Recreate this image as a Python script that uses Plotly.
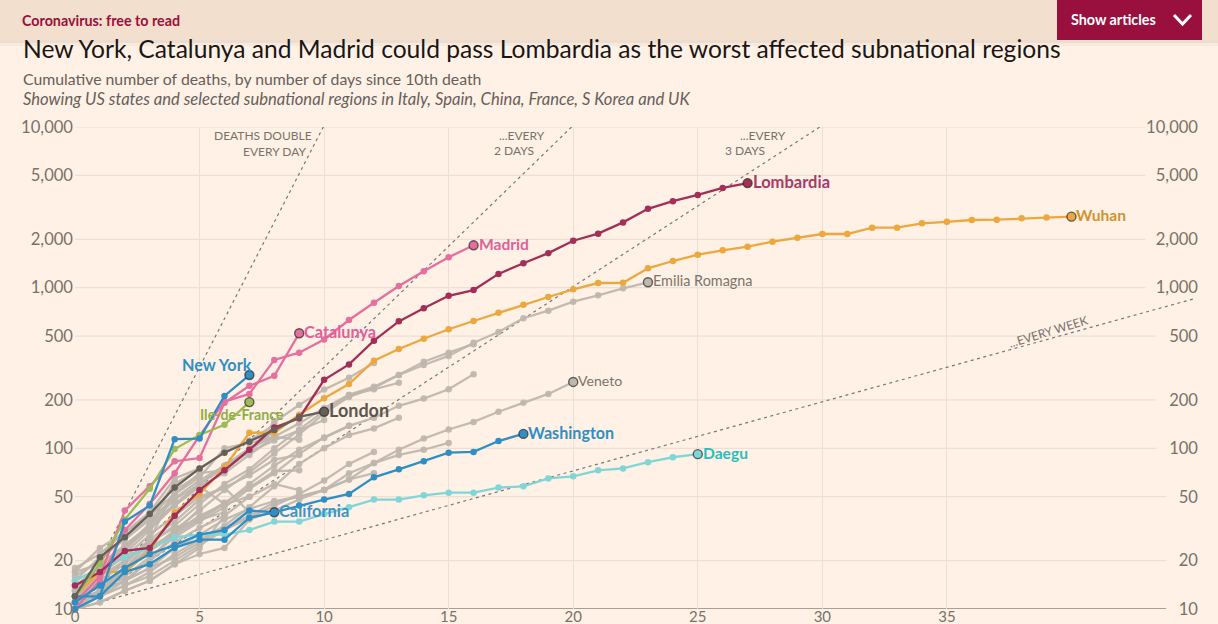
import math
import plotly.graph_objects as go

W, H = 1218, 624
BG = "#fff1e5"
FONT = "Lato"

title_text = "New York, Catalunya and Madrid could pass Lombardia as the worst affected subnational regions"
subtitle_text = "Cumulative number of deaths, by number of days since 10th death"
note_text = "Showing US states and selected subnational regions in Italy, Spain, China, France, S Korea and UK"

y_ticks = [10, 20, 50, 100, 200, 500, 1000, 2000, 5000, 10000]
y_labels = ["10", "20", "50", "100", "200", "500", "1,000", "2,000", "5,000", "10,000"]
x_ticks = [0, 5, 10, 15, 20, 25, 30, 35]

lombardia = [14, 17, 23, 24, 38, 55, 73, 98, 135, 154, 267, 333, 468, 617, 744, 890, 966, 1218, 1420, 1640, 1959, 2168, 2549, 3095, 3456, 3776, 4178, 4474]
wuhan = [12, 17, 17, 23, 40, 52, 76, 125, 125, 162, 205, 251, 351, 415, 481, 551, 620, 698, 783, 875, 977, 1069, 1073, 1320, 1465, 1604, 1708, 1799, 1932, 2046, 2158, 2158, 2361, 2361, 2513, 2570, 2637, 2650, 2700, 2729, 2767]
madrid = [10, 15, 31, 45, 70, 120, 195, 218, 355, 394, 476, 629, 806, 1024, 1264, 1546, 1835]
catalunya = [11, 16, 41, 58, 83, 87, 192, 245, 283, 520]
new_york = [12, 12, 35, 44, 114, 115, 212, 286]
ile_de_france = [12, 19, 36, 56, 99, 121, 140, 194]
london = [12, 21, 28, 39, 57, 75, 94, 110, 130, 157, 169]
california = [11, 14, 18, 22, 25, 29, 31, 41, 40]
washington = [10, 12, 17, 19, 24, 27, 27, 37, 40, 44, 48, 52, 66, 74, 83, 94, 95, 111, 123]
daegu = [15, 18, 21, 24, 28, 29, 29, 31, 35, 35, 39, 43, 48, 48, 51, 53, 53, 57, 58, 65, 67, 73, 75, 82, 88, 92]
emilia = [11, 13, 18, 26, 33, 45, 60, 74, 100, 130, 171, 215, 242, 286, 330, 376, 454, 530, 645, 719, 818, 896, 990, 1080]
veneto = [11, 13, 15, 18, 24, 29, 36, 42, 47, 50, 55, 64, 81, 98, 115, 131, 146, 169, 192, 218, 259]

grey_a = [12, 14, 17, 23, 31, 41, 55, 71, 93, 122, 165, 209, 238, 286, 346, 394, 445]
grey_b = [10, 13, 16, 21, 28, 35, 43, 56, 70, 92, 117, 138, 155, 184, 204, 233, 289]
grey_c = [13, 17, 25, 33, 45, 60, 78, 100, 118, 143, 178, 215, 233, 256]
grey_d = [14, 18, 24, 34, 48, 60, 76, 95, 146, 186, 232, 275, 340]
grey_e = [10, 12, 14, 17, 22, 27, 33, 43, 58, 80, 100, 121, 133, 155]
grey_f = [11, 14, 18, 23, 29, 36, 45, 60, 78, 98, 116, 138]
grey_g = [10, 12, 14, 16, 20, 25, 31, 37, 44, 52, 63, 80, 95]
grey_h = [10, 11, 13, 15, 19, 22, 24, 36, 41, 48, 55, 64, 70]
grey_i = [11, 13, 15, 18, 21, 26, 32, 38, 46, 50, 55, 70, 81, 91, 98, 108]
grey_j = [15, 21, 27, 36, 49, 63, 78, 95, 112, 130, 150]
grey_k = [17, 24, 30, 38, 52, 66, 100, 108, 118, 113]
grey_l = [16, 20, 28, 37, 60, 74, 95, 112, 140]
grey_m = [13, 19, 25, 33, 52, 70, 73, 96, 128]
grey_n = [12, 16, 22, 31, 44, 58, 70, 91, 118]
grey_o = [11, 15, 20, 27, 35, 48, 57, 68, 85, 91]
grey_p = [10, 13, 17, 23, 30, 37, 46, 57, 72, 73]
grey_q = [12, 14, 18, 24, 30, 38, 45, 50, 60, 55]
grey_r = [10, 12, 15, 20, 26, 32, 38, 50]
grey_s = [17, 19, 24, 32, 44, 58, 45]
grey_t = [14, 17, 21, 29, 38, 50, 57, 40]
grey_u = [18, 22, 30, 40, 65, 75]
grey_v = [15, 18, 23, 33, 62]
grey_w = [12, 15, 19, 27, 55, 68]
grey_x = [11, 13, 15, 20, 30, 42]
grey_y = [10, 11, 13, 15, 19, 24, 38]
grey_z = [13, 16, 20, 26, 32, 36, 40]

guide_days = [[0, 10], [0, 20], [0, 30], [0, 45]]
guide_deaths = [[10, 10240], [10, 10240], [10, 10240], [10, 860]]

COL_GREY = "rgba(190,182,174,0.92)"
COL_LOMB = "#a22f58"
COL_PINK = "#e56f9e"
COL_BLUE = "#2f8fc4"
COL_ORANGE = "#eca83f"
COL_TEAL = "#80d6d6"
COL_GREEN = "#9ebb55"
COL_DARK = "#66605a"
GRID = "#ecdfd4"
TICK = "#79716b"

fig = go.Figure()


def px(x):
    return x / W


def py(y):
    return 1 - y / H


def add_series(vals, color, width=2.3, size=6.5, end=False, end_fill=None):
    days = list(range(len(vals)))
    fig.add_trace(go.Scatter(x=days, y=vals, mode="lines+markers",
                             line=dict(color=color, width=width),
                             marker=dict(color=color, size=size),
                             hoverinfo="skip", cliponaxis=False, showlegend=False))
    if end:
        fig.add_trace(go.Scatter(x=days[-1:], y=vals[-1:], mode="markers",
                                 marker=dict(color=end_fill or color, size=9,
                                             line=dict(color="rgba(50,45,45,0.75)", width=1.4)),
                                 hoverinfo="skip", cliponaxis=False, showlegend=False))


for gx, gy in zip(guide_days, guide_deaths):
    fig.add_trace(go.Scatter(x=gx, y=gy, mode="lines",
                             line=dict(color="#7d7570", width=1.2, dash="3px,3.5px"),
                             hoverinfo="skip", cliponaxis=False, showlegend=False))

for g in [grey_a, grey_b, grey_c, grey_d, grey_e, grey_f, grey_g, grey_h, grey_i, grey_j,
          grey_k, grey_l, grey_m, grey_n, grey_o, grey_p, grey_q, grey_r, grey_s, grey_t,
          grey_u, grey_v, grey_w, grey_x, grey_y, grey_z]:
    add_series(g, COL_GREY)
add_series(veneto, COL_GREY, end=True)
add_series(emilia, COL_GREY, end=True)
add_series(daegu, COL_TEAL, end=True)
add_series(wuhan, COL_ORANGE, end=True)
add_series(madrid, COL_PINK, end=True)
add_series(catalunya, COL_PINK, end=True)
add_series(lombardia, COL_LOMB, end=True)
add_series(ile_de_france, COL_GREEN, end=True)
add_series(california, COL_BLUE, end=True)
add_series(washington, COL_BLUE, end=True)
add_series(new_york, COL_BLUE, end=True)
add_series(london, COL_DARK, end=True)

# secondary axis only carries the right-hand labels
fig.add_trace(go.Scatter(x=[0], y=[10], yaxis="y2", mode="markers", marker=dict(opacity=0),
                         hoverinfo="skip", showlegend=False))

shapes = []
# horizontal gridlines stop short of the right-hand labels, by label width
grid_ends = {10: 43.8, 20: 43.8, 50: 43.8, 100: 43.4, 200: 43.4, 500: 43.4,
             1000: 42.97, 2000: 42.97, 5000: 42.97, 10000: 42.97}
for v, e in grid_ends.items():
    shapes.append(dict(type="line", xref="x", yref="y", x0=0, x1=e, y0=v, y1=v, layer="below",
                       line=dict(color=GRID if v != 10 else "#a89f98", width=1.2 if v != 10 else 2)))
# page banner
shapes += [
    dict(type="rect", xref="paper", yref="paper", x0=0, x1=1, y0=py(46), y1=py(40), layer="above",
         fillcolor="rgba(120,90,70,0.05)", line_width=0),
    dict(type="rect", xref="paper", yref="paper", x0=0, x1=1, y0=py(43), y1=py(40), layer="above",
         fillcolor="rgba(120,90,70,0.08)", line_width=0),
    dict(type="rect", xref="paper", yref="paper", x0=0, x1=1, y0=py(40), y1=1, layer="above",
         fillcolor="#f2dfce", line_width=0),
    dict(type="rect", xref="paper", yref="paper", x0=px(1057), x1=px(1202), y0=py(40), y1=1, layer="above",
         fillcolor="#990f3d", line_width=0),
    dict(type="path", xref="paper", yref="paper", layer="above",
         path=f"M {px(1174)} {py(15)} L {px(1182.5)} {py(24)} L {px(1191)} {py(15)}",
         line=dict(color="white", width=3)),
]


def note(text, x, y, size, color, anchor="left", bold=False, italic=False, angle=0):
    t = f"<b>{text}</b>" if bold else (f"<i>{text}</i>" if italic else text)
    fig.add_annotation(text=t, xref="paper", yref="paper", x=px(x), y=py(y), xanchor=anchor,
                       yanchor="middle", showarrow=False, textangle=angle, align="left",
                       borderpad=0, borderwidth=0,
                       font=dict(family=FONT, size=size, color=color))


def end_label(text, vals, size, color, bold=True, dx=3, dy=1.5):
    t = f"<b>{text}</b>" if bold else text
    fig.add_annotation(text=t, xref="x", yref="y", x=len(vals) - 1, y=math.log10(vals[-1]),
                       xanchor="left", yanchor="middle", xshift=dx, yshift=dy, showarrow=False,
                       font=dict(family=FONT, size=size, color=color))


note("Coronavirus: free to read", 22, 20, 14.3, "#990f3d", bold=True)
note("Show articles", 1071, 19, 14.3, "#ffffff", bold=True)
note(title_text, 23, 49, 24.6, "#1a1614")
note(subtitle_text, 23, 78, 15.8, "#66605c")
note(note_text, 23, 99, 16.6, "#66605c", italic=True)

note("DEATHS DOUBLE", 312, 135, 12, TICK, anchor="right")
note("EVERY DAY", 306, 151, 12, TICK, anchor="right")
note("...EVERY", 545, 135, 12, TICK, anchor="right")
note("2 DAYS", 534, 150, 12, TICK, anchor="right")
note("...EVERY", 786, 135, 12, TICK, anchor="right")
note("3 DAYS", 765, 150, 12, TICK, anchor="right")
fig.add_annotation(text="...EVERY WEEK", xref="paper", yref="paper", x=px(1048), y=py(331),
                   xanchor="center", yanchor="middle", showarrow=False, textangle=-17,
                   font=dict(family=FONT, size=12, color=TICK))

end_label("Lombardia", lombardia, 16.5, "#a83a68")
end_label("Wuhan", wuhan, 15.6, "#cf942f")
end_label("Madrid", madrid, 15.6, "#e0609a")
end_label("Catalunya", catalunya, 16.3, "#e0609a")
end_label("London", london, 18, "#5b5650")
end_label("California", california, 16.4, "#3d93c8")
end_label("Washington", washington, 16.1, "#2f8fc4")
end_label("Daegu", daegu, 15.6, "#2cbdbb")
end_label("Emilia Romagna", emilia, 14.4, "#7b746e", bold=False)
end_label("Veneto", veneto, 14.1, "#7b746e", bold=False)
note("New York", 182, 364, 16.2, "#2f8fc4", bold=True)
note("Ile-de-France", 200, 414, 14.2, "#90ad45", bold=True)

fig.update_layout(
    width=W, height=H, autosize=False,
    margin=dict(l=0, r=0, t=0, b=0, pad=0, autoexpand=False),
    paper_bgcolor=BG, plot_bgcolor=BG,
    showlegend=False, shapes=shapes,
    font=dict(family=FONT),
    xaxis=dict(domain=[px(75), px(1196)], range=[0, 45], tickvals=x_ticks,
               showgrid=True, gridcolor=GRID, gridwidth=1.2, zeroline=False, showline=False,
               ticks="", tickfont=dict(family=FONT, size=15, color=TICK), ticklabelstandoff=-3),
    yaxis=dict(domain=[py(609), py(127)], type="log", range=[1, 4], tickvals=y_ticks, ticktext=y_labels,
               showgrid=False, zeroline=False, showline=False, ticks="",
               tickfont=dict(family=FONT, size=16.6, color=TICK), ticklabelstandoff=1),
    yaxis2=dict(domain=[py(609), py(127)], type="log", range=[1, 4], tickvals=y_ticks, ticktext=y_labels,
                overlaying="y", side="left", anchor="free", position=px(1198),
                showgrid=False, zeroline=False, showline=False, ticks="",
                tickfont=dict(family=FONT, size=16.6, color=TICK)),
)

fig.write_html("out.html", config={"displayModeBar": False},
               post_script="document.body.style.margin='0';document.body.style.overflow='hidden';document.documentElement.style.background='#fff1e5';")
